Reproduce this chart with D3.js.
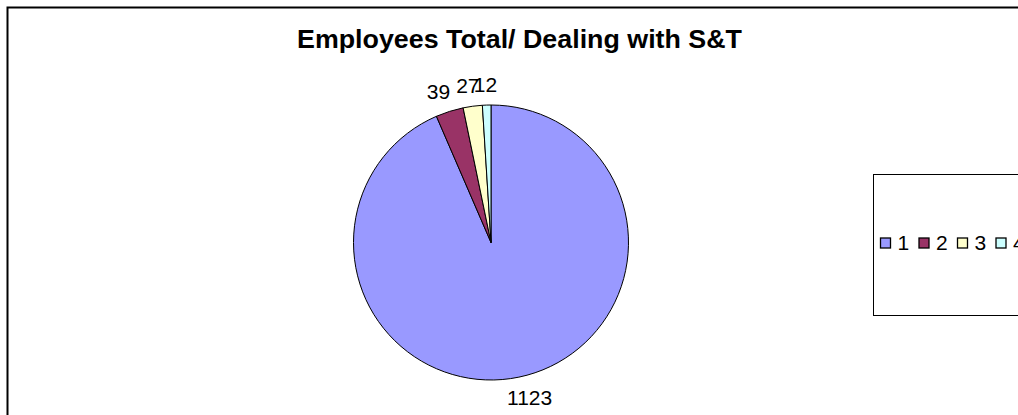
<!DOCTYPE html>
<html><head><meta charset="utf-8">
<script src="https://cdn.jsdelivr.net/npm/d3@7/dist/d3.min.js"></script>
<style>body{margin:0;background:#fff}svg{display:block}</style>
</head><body>
<script>
const categories = ["1","2","3","4"];
const values = [1123, 39, 27, 12];
const colors = ["#9999FF","#993366","#FFFFCC","#CCFFFF"];
const title = "Employees Total/ Dealing with S&T";

const W = 1018, H = 415;
const FONT = "Liberation Sans, Arial, sans-serif";
const svg = d3.select("body").append("svg").attr("width", W).attr("height", H);
svg.append("rect").attr("width", W).attr("height", H).attr("fill", "#fff");
svg.append("path").attr("d", `M7.5,${H} V7.5 H${W}`).attr("fill","none").attr("stroke","#000").attr("stroke-width",2);

svg.append("text").attr("x", 297).attr("y", 48)
  .attr("font-family",FONT).attr("font-weight","bold")
  .attr("font-size", 25).attr("textLength", 445).attr("lengthAdjust","spacingAndGlyphs")
  .text(title);

const cx = 491, cy = 242.5, r = 137.5, lr = 158;
const data = categories.map((c,i)=>({c, v: values[i], col: colors[i]}));
const pie = d3.pie().value(d=>d.v).sort(null);
const arcs = pie(data);
const arc = d3.arc().innerRadius(0).outerRadius(r);
const g = svg.append("g").attr("transform", `translate(${cx},${cy})`);
g.selectAll("path").data(arcs).join("path").attr("d", arc)
  .attr("fill", d=>d.data.col).attr("stroke","#000").attr("stroke-width",1);
g.selectAll("text").data(arcs).join("text")
  .attr("transform", d=>{
    const a = (d.startAngle + d.endAngle)/2;
    const w = String(d.data.v).length * 11.7;
    const x = Math.sin(a)*(lr + w*0.7);
    const y = -Math.cos(a)*lr;
    return `translate(${x},${y})`;
  })
  .attr("text-anchor","middle").attr("dy","0.35em")
  .attr("font-family",FONT).attr("font-size",21)
  .text(d=>d.data.v);

// legend
svg.append("rect").attr("x",873.5).attr("y",174.5).attr("width",160).attr("height",141)
  .attr("fill","#fff").attr("stroke","#000").attr("stroke-width",1);
const li = svg.append("g").selectAll("g").data(data).join("g")
  .attr("transform",(d,i)=>`translate(${880.5 + i*38.5},238)`);
li.append("rect").attr("width",10).attr("height",10).attr("fill",d=>d.col).attr("stroke","#000").attr("stroke-width",1.3);
li.append("text").attr("x",17).attr("y",12)
  .attr("font-family",FONT).attr("font-size",21).text(d=>d.c);
</script>
</body></html>
